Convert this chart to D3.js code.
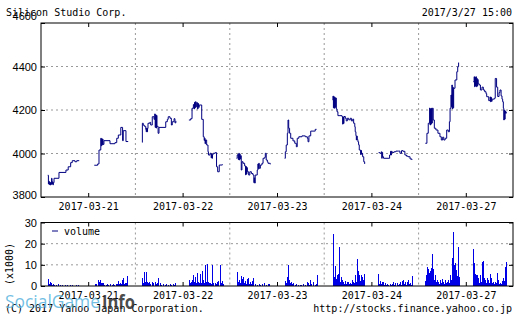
<!DOCTYPE html>
<html>
<head>
<meta charset="utf-8">
<script src="https://cdn.jsdelivr.net/npm/d3@7"></script>
<style>
  body { margin: 0; background: #fff; }
  svg { display: block; }
</style>
</head>
<body>
<div id="chart"></div>
<script>
// trading days shown on the x axis
const dates = ["2017-03-21", "2017-03-22", "2017-03-23", "2017-03-24", "2017-03-27"];

const priceTicks = [3800, 4000, 4200, 4400, 4600];
const volumeTicks = [0, 10, 20, 30];

// intraday prices [time, yen] (morning / afternoon sessions)
const price0321am = [["9:00",3900],["9:03",3860],["9:05",3872],["9:07",3857],["9:09",3868],["9:11",3855],["9:13",3866],["9:15",3858],["9:17",3886],["9:19",3860],["9:21",3870],["9:23",3856],["9:25",3866],["9:28",3886],["9:50",3913],["10:21",3924],["10:31",3939],["10:42",3958],["10:49",3967],["11:01",3962],["11:09",3967],["11:20",3967]];
const price0321pm = [["12:27",3946],["12:42",3952],["12:48",4016],["12:56",4070],["12:58",4035],["13:00",4068],["13:02",4040],["13:04",4066],["13:06",4042],["13:10",4059],["13:37",4045],["13:59",4050],["14:07",4070],["14:14",4085],["14:25",4120],["14:33",4059],["14:36",4105],["14:48",4055],["14:58",4055]];
const price0322am = [["9:00",4051],["9:01",4139],["9:05",4130],["9:10",4125],["9:16",4111],["9:18",4100],["9:20",4117],["9:22",4100],["9:24",4115],["9:26",4139],["9:34",4143],["9:38",4131],["9:45",4169],["9:53",4157],["9:56",4182],["9:58",4120],["10:00",4178],["10:02",4117],["10:04",4175],["10:06",4125],["10:11",4093],["10:15",4120],["10:45",4146],["10:52",4157],["10:56",4169],["11:04",4162],["11:10",4131],["11:14",4146],["11:22",4160],["11:26",4141],["11:30",4150]];
const price0322pm = [["12:28",4154],["12:36",4160],["12:42",4208],["12:48",4225],["12:51",4205],["12:53",4235],["12:55",4210],["12:57",4238],["13:00",4215],["13:03",4234],["13:06",4205],["13:09",4230],["13:11",4212],["13:14",4223],["13:25",4157],["13:32",4077],["13:36",4060],["13:38",4070],["13:40",4045],["13:42",4062],["13:47",4039],["13:53",4008],["13:55",3993],["14:02",4001],["14:07",3980],["14:09",3998],["14:11",3978],["14:13",3995],["14:16",4001],["14:25",4004],["14:31",3939],["14:36",3916],["14:43",3947],["14:57",3950]];
const price0323am = [["9:00",3978],["9:03",3993],["9:06",3996],["9:08",3972],["9:10",4001],["9:12",3970],["9:14",3998],["9:16",3975],["9:18",3990],["9:21",3924],["9:24",3962],["9:29",3955],["9:36",3943],["9:40",3902],["9:42",3940],["9:44",3905],["9:46",3935],["9:48",3916],["9:54",3901],["9:59",3916],["10:06",3908],["10:13",3901],["10:17",3866],["10:19",3888],["10:21",3864],["10:23",3901],["10:32",3924],["10:35",3952],["10:37",3930],["10:39",3955],["10:41",3932],["10:46",3947],["10:53",3955],["10:58",3978],["11:05",3982],["11:08",4001],["11:12",3970],["11:17",3962],["11:20",3955],["11:30",3950]];
const price0323pm = [["12:34",3978],["12:37",4008],["12:41",4039],["12:46",4093],["12:49",4154],["12:52",4116],["12:56",4093],["13:01",4070],["13:11",4058],["13:19",4047],["13:26",4031],["13:30",4070],["13:37",4077],["13:51",4081],["14:06",4077],["14:15",4070],["14:18",4054],["14:22",4081],["14:30",4103],["14:45",4103],["14:50",4111],["14:56",4111]];
const price0324am = [["9:08",4246],["9:09",4264],["9:11",4210],["9:13",4261],["9:15",4208],["9:17",4258],["9:19",4212],["9:21",4255],["9:24",4205],["9:27",4192],["9:31",4174],["9:40",4174],["9:49",4170],["9:52",4135],["9:54",4168],["9:56",4138],["9:58",4170],["10:04",4162],["10:08",4150],["10:13",4162],["10:19",4155],["10:26",4162],["10:31",4150],["10:37",4158],["10:41",4139],["10:46",4123],["10:48",4100],["10:51",4082],["10:53",4062],["10:55",4080],["10:57",4064],["11:00",4054],["11:03",4040],["11:06",4016],["11:10",4016],["11:12",3995],["11:14",4014],["11:16",3997],["11:18",4001],["11:21",3985],["11:26",3962],["11:30",3952]];
const price0324pm = [["12:32",4004],["12:38",4001],["12:44",4008],["12:46",3978],["12:48",4005],["12:50",3985],["12:54",3978],["13:14",3978],["13:21",3993],["13:25",4010],["13:27",3993],["13:29",4010],["13:32",4005],["13:41",4008],["13:49",4011],["14:01",4011],["14:07",4001],["14:14",4013],["14:21",4010],["14:29",3993],["14:36",3988],["14:43",3985],["14:52",3975],["15:00",3970]];
const price0327am = [["9:00",4047],["9:07",4093],["9:13",4139],["9:19",4209],["9:21",4131],["9:23",4205],["9:25",4135],["9:27",4208],["9:29",4140],["9:31",4208],["9:35",4154],["9:40",4116],["9:47",4108],["9:56",4093],["10:05",4077],["10:11",4062],["10:17",4075],["10:22",4062],["10:28",4070],["10:35",4108],["10:42",4100],["10:47",4146],["10:50",4208],["10:54",4269],["10:56",4215],["10:58",4315],["11:00",4205],["11:02",4305],["11:04",4210],["11:06",4300],["11:12",4338],["11:20",4376],["11:24",4399],["11:28",4417],["11:30",4417]];
const price0327pm = [["12:33",4330],["12:37",4353],["12:39",4307],["12:41",4350],["12:43",4310],["12:45",4353],["12:47",4307],["12:49",4345],["12:51",4310],["12:53",4340],["12:55",4320],["13:00",4315],["13:05",4292],["13:12",4305],["13:18",4292],["13:24",4284],["13:30",4275],["13:33",4261],["13:42",4243],["13:48",4260],["13:50",4238],["13:52",4258],["13:54",4240],["13:57",4250],["14:07",4254],["14:11",4345],["14:17",4305],["14:22",4262],["14:28",4280],["14:32",4292],["14:37",4265],["14:41",4250],["14:44",4238],["14:47",4208],["14:49",4154],["14:51",4200],["14:53",4158],["14:55",4195],["14:57",4185],["15:00",4192]];

// volume [time, thousand shares]
const vol0321 = [["9:00",3.3],["9:02",2.0],["9:04",1.0],["9:06",0.6],["9:10",1.7],["9:13",0.8],["9:16",1.5],["9:20",0.6],["9:23",1.0],["9:30",0.4],["9:38",0.5],["9:46",0.8],["9:55",0.3],["10:05",0.4],["10:15",0.6],["10:25",0.3],["10:40",0.5],["10:50",0.3],["11:05",0.4],["11:15",0.3],["12:30",0.8],["12:36",1.0],["12:42",1.5],["12:44",2.8],["12:48",1.8],["12:52",3.0],["12:56",1.2],["13:00",1.6],["13:06",1.2],["13:12",0.6],["13:18",0.5],["13:24",0.8],["13:30",0.6],["13:37",0.8],["13:44",0.5],["13:50",0.8],["13:56",0.6],["14:02",1.0],["14:08",0.8],["14:14",2.3],["14:18",1.0],["14:21",1.5],["14:25",0.8],["14:29",2.8],["14:33",1.2],["14:36",3.9],["14:40",1.0],["14:44",1.5],["14:48",1.3],["14:54",4.7]];
const vol0322 = [["9:00",3.6],["9:03",1.2],["9:05",1.5],["9:08",6.8],["9:11",2.0],["9:15",6.5],["9:18",2.5],["9:22",1.8],["9:26",1.2],["9:32",1.7],["9:37",1.0],["9:42",2.0],["9:46",1.0],["9:50",1.5],["9:57",2.0],["10:01",0.8],["10:05",1.4],["10:12",3.6],["10:19",1.6],["10:25",0.6],["10:33",0.8],["10:40",0.5],["10:48",0.8],["10:55",0.5],["11:03",1.0],["11:10",0.6],["11:17",0.8],["11:22",0.5],["11:26",1.6],["12:30",2.8],["12:33",1.5],["12:36",2.0],["12:39",1.2],["12:42",2.8],["12:48",5.2],["12:51",2.0],["12:55",4.4],["12:58",1.5],["13:03",6.2],["13:08",2.0],["13:12",1.2],["13:17",5.6],["13:21",1.5],["13:25",7.0],["13:32",3.0],["13:36",1.5],["13:40",9.8],["13:44",1.8],["13:47",10.4],["13:54",2.0],["13:58",1.2],["14:02",1.5],["14:05",1.0],["14:09",9.8],["14:13",1.0],["14:17",1.4],["14:24",1.6],["14:28",1.0],["14:32",2.0],["14:36",1.2],["14:39",2.5],["14:46",10.1],["14:50",1.5],["14:54",2.3],["14:59",1.0]];
const vol0323 = [["9:00",2.0],["9:03",6.8],["9:07",2.0],["9:11",3.0],["9:15",1.5],["9:18",4.9],["9:21",2.0],["9:24",3.5],["9:27",1.5],["9:30",4.1],["9:34",1.2],["9:38",2.5],["9:41",1.0],["9:45",3.3],["9:48",1.2],["9:52",4.0],["9:56",1.0],["10:00",2.0],["10:04",0.8],["10:07",2.3],["10:11",1.0],["10:15",3.8],["10:22",0.8],["10:30",0.6],["10:38",1.0],["10:46",0.5],["10:54",0.8],["11:02",1.2],["11:10",0.6],["11:18",0.8],["11:25",1.0],["12:36",2.5],["12:40",1.5],["12:43",4.2],["12:47",2.0],["12:50",10.0],["12:55",2.8],["12:59",1.2],["13:02",2.0],["13:07",1.0],["13:11",1.5],["13:18",0.6],["13:25",0.8],["13:33",0.6],["13:41",0.7],["13:49",0.5],["13:57",0.8],["14:05",0.6],["14:12",1.8],["14:16",0.6],["14:19",1.2],["14:23",0.5],["14:27",2.8],["14:33",0.8],["14:41",2.0],["14:48",0.6],["14:53",1.0],["14:57",5.1]];
const vol0324 = [["9:08",24.4],["9:11",3.0],["9:14",4.4],["9:18",9.4],["9:22",3.5],["9:26",5.1],["9:30",2.5],["9:33",5.8],["9:37",18.6],["9:40",2.0],["9:43",4.4],["9:48",2.8],["9:52",1.2],["9:55",2.0],["9:59",1.0],["10:03",2.3],["10:06",1.0],["10:10",1.7],["10:14",0.8],["10:17",2.0],["10:21",1.0],["10:25",1.2],["10:28",0.8],["10:32",2.8],["10:36",1.0],["10:39",2.0],["10:43",1.2],["10:47",5.1],["10:51",2.0],["10:55",12.8],["10:59",6.9],["11:02",2.0],["11:06",5.1],["11:09",2.5],["11:12",5.4],["11:17",4.4],["11:20",1.5],["11:24",2.8],["11:26",5.8],["11:29",4.4],["12:31",5.8],["12:35",1.0],["12:38",2.3],["12:42",0.8],["12:46",1.7],["12:50",0.8],["12:53",2.0],["12:57",0.6],["13:00",1.2],["13:05",0.5],["13:10",0.8],["13:16",0.6],["13:22",0.8],["13:28",0.5],["13:32",0.8],["13:37",1.7],["13:41",0.6],["13:45",1.2],["13:52",1.2],["13:58",0.6],["14:03",0.8],["14:07",1.7],["14:11",0.6],["14:15",2.3],["14:19",1.0],["14:22",2.8],["14:26",0.8],["14:29",1.7],["14:33",0.6],["14:37",1.7],["14:41",0.8],["14:44",2.8],["14:48",0.8],["14:51",1.2],["14:55",0.6],["14:59",4.6]];
const vol0327 = [["9:00",2.5],["9:03",5.4],["9:06",4.0],["9:09",8.9],["9:11",4.5],["9:13",8.0],["9:16",6.0],["9:18",5.0],["9:21",7.3],["9:24",8.5],["9:28",15.0],["9:31",4.0],["9:33",8.0],["9:35",6.5],["9:39",3.0],["9:43",5.1],["9:47",2.0],["9:51",2.8],["9:55",1.5],["9:58",2.0],["10:01",1.0],["10:05",2.8],["10:09",1.5],["10:13",3.3],["10:16",1.2],["10:20",2.0],["10:24",1.0],["10:27",2.8],["10:31",1.2],["10:35",2.0],["10:38",1.0],["10:42",2.8],["10:46",1.5],["10:50",5.1],["10:54",3.0],["10:57",13.0],["11:00",6.0],["11:02",25.4],["11:05",5.0],["11:08",9.7],["11:10",6.0],["11:12",11.0],["11:15",4.0],["11:18",7.5],["11:21",4.5],["11:24",18.5],["11:27",18.2],["11:30",4.4],["12:33",17.7],["12:36",6.0],["12:38",11.0],["12:41",5.8],["12:45",5.1],["12:48",5.4],["12:52",2.0],["12:56",3.6],["12:59",1.5],["13:03",5.1],["13:07",2.0],["13:11",11.5],["13:15",12.0],["13:18",2.0],["13:21",3.6],["13:26",2.8],["13:30",1.2],["13:33",3.6],["13:37",1.5],["13:40",2.8],["13:44",1.2],["13:48",5.8],["13:52",3.9],["13:56",1.5],["14:00",2.0],["14:04",1.0],["14:10",2.0],["14:14",1.2],["14:17",6.2],["14:21",1.5],["14:25",2.8],["14:29",1.0],["14:32",1.2],["14:36",0.8],["14:40",2.3],["14:44",1.2],["14:47",3.6],["14:51",2.5],["14:54",8.9],["14:57",11.5],["15:00",7.8]];

const sessions = [price0321am, price0321pm, price0322am, price0322pm, price0323am, price0323pm,
                  price0324am, price0324pm, price0327am, price0327pm];
const volumes = [vol0321, vol0322, vol0323, vol0324, vol0327];

const mono = "'DejaVu Sans Mono', monospace";
const sans = "'Liberation Sans', Arial, sans-serif";

const svg = d3.select("#chart")
    .append("svg")
    .attr("width", 521)
    .attr("height", 317);

// each day slot runs 8:30 -> 15:30
function minutes(s) { const p = s.split(":"); return +p[0] * 60 + +p[1]; }
const slot = (day, t) => day + (minutes(t) - 510) / 420;

const x = d3.scaleLinear().domain([0, 5]).range([41, 513]);
const yP = d3.scaleLinear().domain([3800, 4600]).range([197, 23]);
const yV = d3.scaleLinear().domain([0, 30]).range([286, 222.5]);

const mids = dates.map((d, i) => i + 0.5);

// draws grid and ticks of one panel
function panel(y, ticks) {
    const [y0, y1] = y.range();
    const g = svg.append("g");

    g.selectAll(".vgrid")
        .data([1, 2, 3, 4])
        .join("line")
        .attr("x1", d => x(d)).attr("x2", d => x(d))
        .attr("y1", y1).attr("y2", y0)
        .attr("stroke", "#999").attr("stroke-dasharray", "2,3");

    g.selectAll(".hgrid")
        .data(ticks.slice(1, -1))
        .join("line")
        .attr("x1", 41).attr("x2", 513)
        .attr("y1", d => y(d)).attr("y2", d => y(d))
        .attr("stroke", "#999").attr("stroke-dasharray", "2,3");

    const left = g.append("g").attr("transform", "translate(41,0)")
        .call(d3.axisLeft(y).tickValues(ticks).tickSize(-4).tickPadding(4).tickFormat(d3.format("d")));
    const right = g.append("g").attr("transform", "translate(513,0)")
        .call(d3.axisRight(y).tickValues(ticks).tickSize(-4).tickFormat(""));
    const top = g.append("g").attr("transform", `translate(0,${y1})`)
        .call(d3.axisTop(x).tickValues(mids).tickSize(-4).tickFormat(""));
    const bottom = g.append("g").attr("transform", `translate(0,${y0})`)
        .call(d3.axisBottom(x).tickValues(mids).tickSize(-4).tickPadding(6)
            .tickFormat(i => dates[Math.floor(i)]));

    [left, right, top, bottom].forEach(a => {
        a.select(".domain").remove();
        a.selectAll("line").attr("stroke", "#000");
    });
    left.selectAll("text").style("font-family", sans).style("font-size", "11px").attr("fill", "#000");
    bottom.selectAll("text").style("font-family", mono).style("font-size", "10px").attr("fill", "#000");

    return left;
}

// ---- price panel ----
const priceAxis = panel(yP, priceTicks);
priceAxis.selectAll("text").filter(d => d === 4600).attr("dy", "-0.3em");
priceAxis.selectAll("text").filter(d => d === 3800).attr("dy", "0.1em");

const line = d3.line().curve(d3.curveStepAfter);
svg.append("g")
    .selectAll("path")
    .data(sessions)
    .join("path")
    .attr("fill", "none")
    .attr("stroke", "#000080")
    .attr("stroke-width", 1)
    .attr("d", (s, i) => {
        const day = Math.floor(i / 2);
        return line(s.map(d => [x(slot(day, d[0])), yP(d[1])]));
    });

// ---- volume panel ----
panel(yV, volumeTicks);

const bars = [];
volumes.forEach((v, day) => v.forEach(d => bars.push({ day, t: d[0], v: d[1] })));
svg.append("g")
    .selectAll("rect")
    .data(bars)
    .join("rect")
    .attr("x", d => Math.round(x(slot(d.day, d.t))))
    .attr("width", 1)
    .attr("y", d => yV(d.v))
    .attr("height", d => yV(0) - yV(d.v))
    .attr("fill", "#0000e6")
    .attr("shape-rendering", "crispEdges");

svg.append("rect")
    .attr("x", 41).attr("y", 23).attr("width", 472).attr("height", 174)
    .attr("fill", "none").attr("stroke", "#000");
svg.append("rect")
    .attr("x", 41).attr("y", 222.5).attr("width", 472).attr("height", 63.5)
    .attr("fill", "none").attr("stroke", "#000");

// legend
svg.append("line")
    .attr("x1", 52).attr("x2", 58).attr("y1", 231).attr("y2", 231)
    .attr("stroke", "#000080");
svg.append("text")
    .attr("x", 64).attr("y", 234.5)
    .style("font-family", mono).style("font-size", "10px")
    .text("volume");

svg.append("text")
    .attr("transform", "translate(9,264) rotate(-90)")
    .attr("text-anchor", "middle")
    .attr("dominant-baseline", "central")
    .style("font-family", mono).style("font-size", "10px")
    .text("(x1000)");

// titles and credits
svg.append("text")
    .attr("x", 6).attr("y", 15.5)
    .style("font-family", mono).style("font-size", "10px")
    .text("Silicon Studio Corp.");
svg.append("text")
    .attr("x", 512).attr("y", 15.5).attr("text-anchor", "end")
    .style("font-family", mono).style("font-size", "10px")
    .text("2017/3/27 15:00");
svg.append("text")
    .attr("x", 5).attr("y", 312)
    .style("font-family", mono).style("font-size", "10px")
    .text("(C) 2017 Yahoo Japan Corporation.");
svg.append("text")
    .attr("x", 512).attr("y", 312).attr("text-anchor", "end")
    .style("font-family", mono).style("font-size", "10px")
    .text("http://stocks.finance.yahoo.co.jp");

// watermark laid over the credits
svg.append("text")
    .attr("x", 5).attr("y", 308)
    .attr("textLength", 95).attr("lengthAdjust", "spacingAndGlyphs")
    .style("font-family", "'Open Sans', sans-serif").style("font-size", "18px")
    .attr("fill", "#5ab4de").attr("fill-opacity", 0.85)
    .text("SocialGame");
svg.append("text")
    .attr("x", 102).attr("y", 309)
    .attr("textLength", 33).attr("lengthAdjust", "spacingAndGlyphs")
    .style("font-family", "'Open Sans', sans-serif").style("font-size", "20px").style("font-weight", "bold")
    .attr("fill", "#333").attr("fill-opacity", 0.9)
    .text("Info");
</script>
</body>
</html>
